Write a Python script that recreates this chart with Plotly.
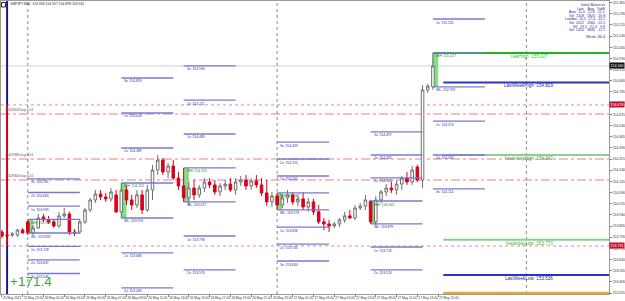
import plotly.graph_objects as go

# ---------------- data ----------------
bar_index = list(range(-5, 79))
open_ = [153.825,153.805,153.804,153.804,153.838,153.893,153.818,153.852,153.926,153.906,
         153.893,153.865,153.933,153.946,153.825,153.825,153.893,153.973,154.040,154.080,
         154.060,154.047,154.074,153.960,154.107,154.040,154.006,154.074,153.973,154.107,
         154.241,154.308,154.228,154.268,154.187,154.134,154.054,154.120,154.074,154.120,
         154.161,154.141,154.094,154.134,154.147,154.107,154.161,154.174,154.134,154.168,
         154.141,154.087,154.027,154.067,154.006,154.054,154.074,154.027,154.047,153.993,
         154.027,153.960,153.893,153.879,153.865,153.879,153.906,153.933,153.919,153.986,
         153.999,154.033,153.893,154.040,154.094,154.120,154.107,154.147,154.187,154.161,
         154.261,154.174,154.779,154.799]
high = [153.838,153.818,153.825,153.845,153.852,153.906,153.872,153.946,153.946,153.933,
        153.906,153.960,153.987,153.960,153.845,153.913,153.987,154.054,154.107,154.107,
        154.087,154.120,154.107,154.154,154.134,154.074,154.107,154.107,154.141,154.275,
        154.342,154.322,154.288,154.308,154.228,154.255,154.161,154.174,154.141,154.187,
        154.187,154.174,154.154,154.174,154.187,154.187,154.201,154.208,154.187,154.208,
        154.187,154.174,154.094,154.087,154.074,154.107,154.094,154.067,154.094,154.054,
        154.047,154.006,153.919,153.906,153.893,153.919,153.960,153.973,154.006,154.020,
        154.074,154.033,154.067,154.107,154.147,154.161,154.174,154.201,154.228,154.268,
        154.275,154.812,154.819,155.027]
low = [153.784,153.784,153.791,153.791,153.818,153.804,153.804,153.845,153.893,153.879,
       153.852,153.852,153.919,153.804,153.798,153.811,153.879,153.960,154.020,154.040,
       154.027,154.027,153.953,153.919,154.006,153.973,153.986,153.946,153.960,154.040,
       154.208,154.208,154.187,154.174,154.107,154.027,154.006,154.040,154.054,154.094,
       154.120,154.074,154.067,154.107,154.094,154.074,154.134,154.107,154.107,154.120,
       154.067,153.999,153.993,153.973,153.986,154.020,154.006,153.999,153.973,153.960,
       153.939,153.879,153.838,153.825,153.852,153.858,153.886,153.913,153.906,153.973,
       153.973,153.879,153.872,154.020,154.067,154.087,154.074,154.107,154.141,154.141,
       154.161,154.120,154.758,154.779]
close = [153.798,153.801,153.811,153.838,153.818,153.818,153.852,153.919,153.906,153.893,
         153.865,153.933,153.946,153.825,153.818,153.893,153.973,154.040,154.080,154.060,
         154.047,154.094,153.960,154.107,154.040,154.006,154.074,153.973,154.107,154.241,
         154.308,154.228,154.268,154.187,154.134,154.054,154.120,154.074,154.120,154.161,
         154.141,154.094,154.134,154.147,154.107,154.161,154.174,154.134,154.168,154.141,
         154.087,154.027,154.067,154.006,154.054,154.074,154.027,154.047,153.993,154.027,
         153.960,153.893,153.879,153.865,153.879,153.906,153.933,153.919,153.986,153.999,
         154.040,153.893,154.040,154.094,154.120,154.107,154.147,154.187,154.161,154.241,
         154.174,154.779,154.805,154.940]

# initial-balance sessions
ses_start = [0, 18, 30, 48, 66, 78]
ses_hi = [153.909, 154.154, 154.255, 154.087, 154.033, 155.027]
ses_lo = [153.818, 153.919, 154.027, 153.973, 153.879, 154.799]
ses_up1 = [153.999, 154.389, 154.483, 154.201, 154.188, 155.255]
ses_up2 = [154.090, 154.624, 154.711, 154.315, 154.342, None]
ses_up3 = [154.181, 154.859, 154.940, 154.429, 154.497, None]
ses_dn1 = [153.728, 153.684, 153.798, 153.858, 153.724, 154.570]
ses_dn2 = [153.637, 153.449, 153.570, 153.744, 153.570, 154.342]
ses_dn3 = [153.546, None, None, 153.630, None, 154.114]
ses_len = 10

# key levels
key_names = ["YearHigh", "LastWeekHigh", "YesterdayHigh", "YesterdayLow", "LastWeekLow"]
key_values = [155.027, 154.829, 154.342, 153.773, 153.536]
key_colors = ["#22b022", "#3030c8", "#8fd08f", "#8fd08f", "#3030c8"]
key_text_colors = ["#3cbf3c", "#2a2aa8", "#3cae3c", "#3cae3c", "#2a2aa8"]
key_start = [78, 80, 80, 80, 80]
orange_level = 153.415

order_levels = [154.617, 154.315, 154.174]
order_labels = ["#1629453 buy 0.01", "#1629385 buy 0.01", "#1629404 buy 0.01"]
stop_levels = [154.678, 153.731]
bid = 154.940
day_separators = [0, 48, 96]

price_ticks = [155.365,155.290,155.215,155.140,155.065,154.990,154.915,154.840,154.765,
               154.690,154.615,154.540,154.465,154.390,154.315,154.240,154.165,154.090,
               154.015,153.940,153.865,153.790,153.715,153.640,153.565,153.490,153.415]
time_tick_idx = [-5,-1,3,7,11,15,19,23,27,31,35,39,43,47,51,55,59,63,67,71,75,79]
time_tick_text = ["25 May 2021","25 May 23:00","26 May 01:00","26 May 03:00","26 May 05:00",
                  "26 May 07:00","26 May 09:00","26 May 11:00","26 May 13:00","26 May 15:00",
                  "26 May 17:00","26 May 19:00","26 May 21:00","26 May 23:00","27 May 01:00",
                  "27 May 03:00","27 May 05:00","27 May 07:00","27 May 09:00","27 May 11:00",
                  "27 May 13:00","27 May 15:00"]
info_lines = ["Initial Balances", "Last    Avg   %diff", "Asia  11.4   12.8  -11.1",
              "Vol  1318   1820  -16.8", "London  15.5  17.4  -10.2", "Vol  2012   2660  -22.5",
              "NY  23.5   21.4   9.8", "Vol  5450   3845  -12.5"]
week_text = "Week: 84.4"
profit_text = "+171.4"
title_text = "GBPJPY,M30  154.934 154.957 154.898 154.941"

XMIN, XMAX = -5.17, 111.9
YMIN, YMAX = 153.4085, 155.376
FONT = "Liberation Sans"

fig = go.Figure()
shapes = []
ann = []

# IB green rectangles
for s, h, l in zip(ses_start, ses_hi, ses_lo):
    shapes.append(dict(type="rect", xref="x", yref="y", x0=s - 0.1, x1=s + 1, y0=l, y1=h,
                       fillcolor="#7fe27f", line=dict(width=0), layer="below"))

# day separators
for d in day_separators:
    shapes.append(dict(type="line", xref="x", yref="paper", x0=d, x1=d, y0=0, y1=1,
                       line=dict(color="#8a8a8a", width=1, dash="dot"), layer="below"))

# full-width lines
shapes.append(dict(type="line", xref="paper", yref="y", x0=0, x1=1, y0=bid, y1=bid,
                   line=dict(color="#cfcfcf", width=1), layer="below"))
for v in order_levels:
    shapes.append(dict(type="line", xref="paper", yref="y", x0=0, x1=1, y0=v, y1=v,
                       line=dict(color="#ee7a96", width=1, dash="dashdot"), layer="below"))
for v in stop_levels:
    shapes.append(dict(type="line", xref="paper", yref="y", x0=0, x1=1, y0=v, y1=v,
                       line=dict(color="#e86a6a", width=0.8, dash="dot"), layer="below"))

# key level lines
for n, v, c, tc, st in zip(key_names, key_values, key_colors, key_text_colors, key_start):
    shapes.append(dict(type="line", xref="x", yref="y", x0=st, x1=XMAX, y0=v, y1=v,
                       line=dict(color=c, width=2), layer="below"))
    ann.append(dict(x=96.4, y=v, xref="x", yref="y", text=f"{n}  {v:.3f}", showarrow=False,
                    xanchor="center", yanchor="top", yshift=1,
                    font=dict(size=4.6, color=tc, family=FONT)))
shapes.append(dict(type="line", xref="x", yref="y", x0=80, x1=XMAX, y0=orange_level,
                   y1=orange_level, line=dict(color="#e3a63a", width=2.5), layer="below"))

# session lines
sx, sy = [], []
for k, s in enumerate(ses_start):
    entries = [("3x", ses_up3[k]), ("2x", ses_up2[k]), ("1x", ses_up1[k]),
               ("IBH", ses_hi[k]), ("IBL", ses_lo[k]),
               ("1x", ses_dn1[k]), ("2x", ses_dn2[k]), ("3x", ses_dn3[k])]
    for tag, v in entries:
        if v is None:
            continue
        sx += [s, s + ses_len, None]
        sy += [v, v, None]
        col = "#1f7a1f" if tag == "IBH" else "#2e2e92"
        ann.append(dict(x=s, y=v, xref="x", yref="y", text=f"{tag}: {v:.3f}", showarrow=False,
                        xanchor="left", yanchor="top", xshift=1, yshift=0.5,
                        font=dict(size=3.4, color=col, family=FONT)))
fig.add_trace(go.Scatter(x=sx, y=sy, mode="lines", line=dict(color="#7878d0", width=1.3),
                         hoverinfo="skip", showlegend=False))

# candles
fig.add_trace(go.Candlestick(x=bar_index, open=open_, high=high, low=low, close=close,
                             increasing=dict(line=dict(color="#707070", width=1), fillcolor="#ffffff"),
                             decreasing=dict(line=dict(color="#d8001c", width=1), fillcolor="#d8001c"),
                             whiskerwidth=0, showlegend=False, hoverinfo="skip"))

# left indicator bar
shapes.append(dict(type="line", xref="x", yref="y", x0=-4, x1=-4, y0=stop_levels[0], y1=YMAX,
                   line=dict(color="#1c1c8e", width=2)))
shapes.append(dict(type="line", xref="x", yref="y", x0=-4, x1=-4, y0=stop_levels[1], y1=stop_levels[0],
                   line=dict(color="#c80014", width=2)))
shapes.append(dict(type="line", xref="x", yref="y", x0=-4, x1=-4, y0=YMIN, y1=stop_levels[1],
                   line=dict(color="#1c1c8e", width=2)))

# order labels
for v, t in zip(order_levels, order_labels):
    ann.append(dict(x=0.004, y=v, xref="paper", yref="y", text=t, showarrow=False,
                    xanchor="left", yanchor="bottom", yshift=0,
                    font=dict(size=3.3, color="#50506a", family=FONT)))

# price tags on axis
for v, bg in [(bid, "#111111"), (stop_levels[0], "#c8102e"), (stop_levels[1], "#c8102e")]:
    ann.append(dict(x=1.0, y=v, xref="paper", yref="y", text=f"{v:.3f}", showarrow=False,
                    xanchor="left", yanchor="middle", bgcolor=bg, borderpad=0.5,
                    font=dict(size=3.6, color="white", family=FONT)))

# info table
for j, t in enumerate(info_lines):
    ann.append(dict(x=0.996, y=1 - (4 + j * 3.6) / 293, xref="paper", yref="paper", text=t,
                    showarrow=False, xanchor="right", yanchor="middle",
                    font=dict(size=3.6, color="#2a2a9a", family=FONT)))
ann.append(dict(x=0.996, y=1 - 36 / 293, xref="paper", yref="paper", text=week_text,
                showarrow=False, xanchor="right", yanchor="middle",
                font=dict(size=3.8, color="#2a2a9a", family=FONT)))

# title + profit
ann.append(dict(x=7 / 611, y=1 - 3 / 293, xref="paper", yref="paper", text=title_text,
                showarrow=False, xanchor="left", yanchor="middle",
                font=dict(size=3.4, color="#222222", family=FONT)))
ann.append(dict(x=7 / 611, y=(294 - 281) / 293, xref="paper", yref="paper", text=profit_text,
                showarrow=False, xanchor="left", yanchor="middle",
                font=dict(size=13.5, color="#3aa43a", family=FONT)))
shapes.append(dict(type="rect", xref="paper", yref="paper", x0=0.5 / 611, x1=4.5 / 611,
                   y0=1 - 6 / 293, y1=1 - 1.5 / 293, fillcolor="white",
                   line=dict(color="#222222", width=1)))

fig.update_layout(
    width=625, height=301, margin=dict(l=0, r=14, t=1, b=7, pad=0),
    paper_bgcolor="white", plot_bgcolor="white", showlegend=False,
    shapes=shapes, annotations=ann,
    xaxis=dict(range=[XMIN, XMAX], showgrid=False, zeroline=False, rangeslider=dict(visible=False),
               tickmode="array", tickvals=time_tick_idx, ticktext=time_tick_text, tickangle=0,
               ticklabelposition="outside right", ticks="outside", ticklen=2, tickcolor="#808080",
               tickfont=dict(size=3.2, color="#333333", family=FONT),
               showline=True, linecolor="#9a9a9a", linewidth=1, mirror=True),
    yaxis=dict(range=[YMIN, YMAX], side="right", showgrid=False, zeroline=False,
               tickmode="array", tickvals=price_ticks, ticktext=[f"{v:.3f}" for v in price_ticks],
               ticks="outside", ticklen=2, tickcolor="#808080",
               tickfont=dict(size=3.4, color="#333333", family=FONT),
               showline=True, linecolor="#9a9a9a", linewidth=1, mirror=True),
)

fig.write_html("out.html")
